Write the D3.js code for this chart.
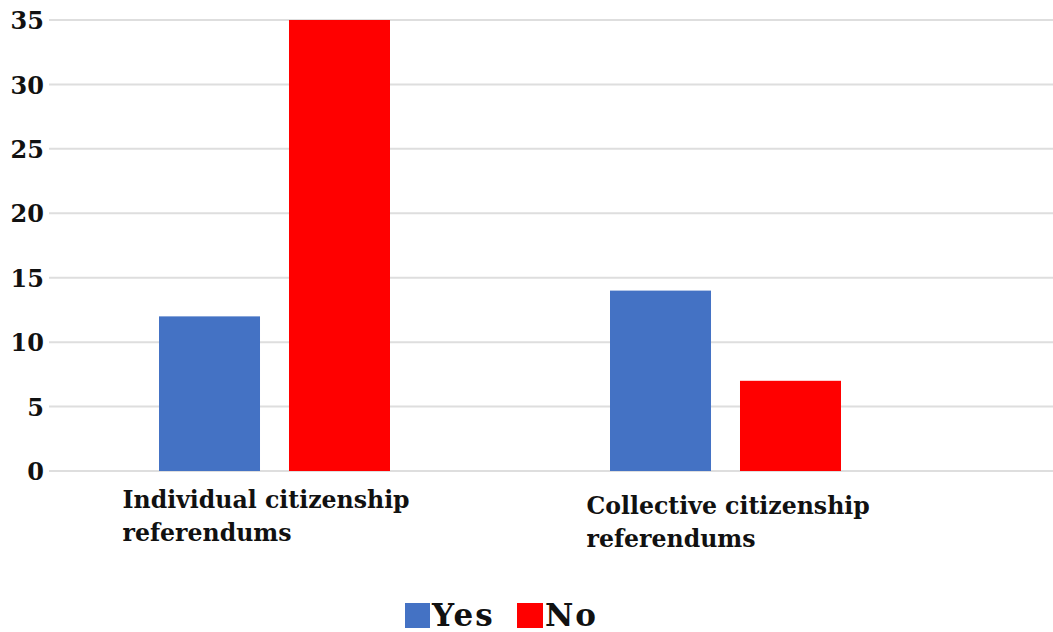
<!DOCTYPE html>
<html>
<head>
<meta charset="utf-8">
<script src="https://cdn.jsdelivr.net/npm/d3@7"></script>
<style>
  html, body { margin: 0; padding: 0; background: #fff; }
  svg { display: block; }
  text { font-family: "DejaVu Serif", serif; font-weight: bold; fill: #111; }
</style>
</head>
<body>
<svg id="chart" width="1053" height="632"></svg>
<script>
// Referendum outcomes by type
const categories = [["Individual citizenship", "referendums"], ["Collective citizenship", "referendums"]];
const seriesNames = ["Yes", "No"];
const yesValues = [12, 14];
const noValues = [35, 7];
const yTicks = [0, 5, 10, 15, 20, 25, 30, 35];
const colors = ["#4472C4", "#FF0000"];

const FONT = "'DejaVu Serif', serif";
const svg = d3.select("#chart");
const W = 1053, H = 632;
const plot = { left: 49, right: 951, top: 20, bottom: 471 };

const x0 = d3.scaleBand()
  .domain(d3.range(categories.length))
  .range([plot.left, plot.right]);

const x1 = d3.scaleBand()
  .domain(seriesNames)
  .range([0, 231])
  .paddingInner(0.223);

const y = d3.scaleLinear()
  .domain([0, 35])
  .range([plot.bottom, plot.top]);

// gridlines
svg.append("g")
  .selectAll("line")
  .data(yTicks)
  .join("line")
  .attr("x1", plot.left)
  .attr("x2", W)
  .attr("y1", d => y(d))
  .attr("y2", d => y(d))
  .attr("stroke", "#dedede")
  .attr("stroke-width", 2);

// y axis labels
const yAxis = d3.axisLeft(y).tickValues(yTicks).tickSize(0).tickPadding(0);
const gy = svg.append("g").attr("transform", `translate(44,0)`).call(yAxis);
gy.attr("font-family", null);
gy.select(".domain").remove();
gy.selectAll("text")
  .style("font-family", FONT)
  .style("font-weight", "bold")
  .attr("font-size", 24)
  .attr("fill", "#111")
  .attr("dy", "0.36em");

// bars
const rows = categories.map((c, i) => ({ i, values: [yesValues[i], noValues[i]] }));
const groupWidth = 231;
const groups = svg.append("g")
  .selectAll("g")
  .data(rows)
  .join("g")
  .attr("transform", d => `translate(${x0(d.i) + x0.bandwidth() / 2 - groupWidth / 2},0)`);

groups.selectAll("rect")
  .data(d => d.values.map((v, k) => ({ name: seriesNames[k], v, k })))
  .join("rect")
  .attr("x", d => x1(d.name))
  .attr("width", x1.bandwidth())
  .attr("y", d => y(d.v))
  .attr("height", d => y(0) - y(d.v))
  .attr("fill", d => colors[d.k]);

// category labels
const labelPos = [{ dx: -152, y: 508 }, { dx: -139, y: 514 }];
const catLabels = svg.append("g")
  .selectAll("text")
  .data(categories)
  .join("text")
  .attr("x", (d, i) => x0(i) + x0.bandwidth() / 2 + labelPos[i].dx)
  .attr("y", (d, i) => labelPos[i].y)
  .attr("font-size", 23.6);
catLabels.selectAll("tspan")
  .data((d, i) => d.map(line => ({ line, i })))
  .join("tspan")
  .attr("x", function () { return d3.select(this.parentNode).attr("x"); })
  .attr("dy", (d, j) => j === 0 ? 0 : 32.5)
  .text(d => d.line);

// legend
const legendItems = [{ x: 405, w: 25 }, { x: 517, w: 26 }];
const legend = svg.append("g");
seriesNames.forEach((name, k) => {
  legend.append("rect")
    .attr("x", legendItems[k].x)
    .attr("y", 603)
    .attr("width", legendItems[k].w)
    .attr("height", 25)
    .attr("fill", colors[k]);
  legend.append("text")
    .attr("x", legendItems[k].x + legendItems[k].w + 2)
    .attr("y", 626)
    .attr("font-size", 31)
    .attr("letter-spacing", 2)
    .text(name);
});
</script>
</body>
</html>
